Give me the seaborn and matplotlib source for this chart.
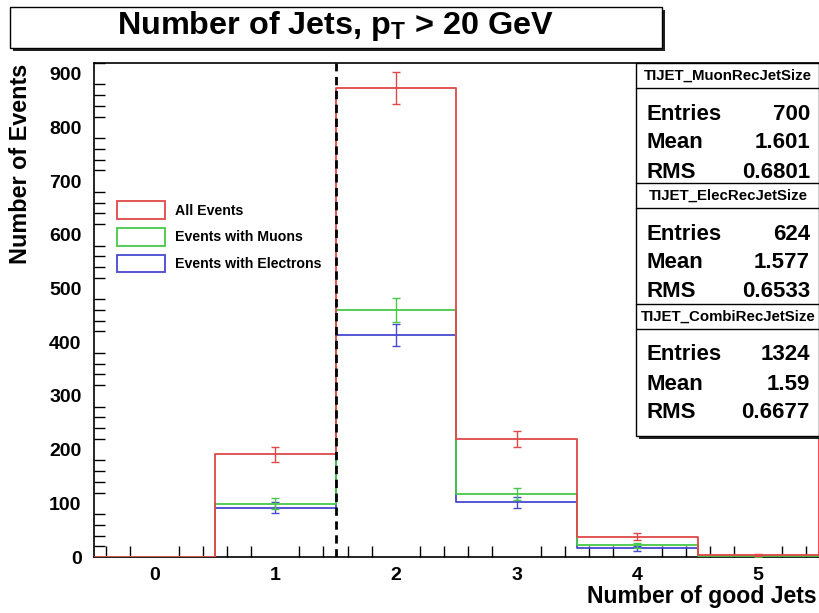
import numpy as np
import pandas as pd
import matplotlib
matplotlib.use("Agg")
import matplotlib.pyplot as plt
import seaborn as sns
from matplotlib.patches import Rectangle, Patch
from matplotlib.ticker import MultipleLocator

# ---- data ----
jets = [0, 1, 2, 3, 4, 5]
all_events = [0, 191, 873, 219, 38, 4]
muon_events = [0, 99, 460, 117, 22, 2]
elec_events = [0, 92, 413, 102, 16, 2]
series_names = ["All Events", "Events with Muons", "Events with Electrons"]
series_colors = ["#e04848", "#48c848", "#4848d0"]
stats_headers = ["TIJET_MuonRecJetSize", "TIJET_ElecRecJetSize", "TIJET_CombiRecJetSize"]
stats_entries = ["700", "624", "1324"]
stats_means = ["1.601", "1.577", "1.59"]
stats_rms = ["0.6801", "0.6533", "0.6677"]
cut_x = 1.5

sns.set_style("white")
plt.rcParams['font.family'] = ['Liberation Sans', 'DejaVu Sans']
plt.rcParams['font.weight'] = 'bold'
plt.rcParams['text.color'] = 'black'
plt.rcParams['axes.labelcolor'] = 'black'
plt.rcParams['xtick.color'] = 'black'
plt.rcParams['ytick.color'] = 'black'
plt.rcParams['mathtext.fontset'] = 'custom'
plt.rcParams['mathtext.rm'] = 'Liberation Sans:bold'
plt.rcParams['mathtext.it'] = 'Liberation Sans:bold'
plt.rcParams['mathtext.bf'] = 'Liberation Sans:bold'

W, H = 819, 613
fig = plt.figure(figsize=(W / 100, H / 100), dpi=100)

def fx(x):
    return x / W

def fy(y):
    return 1 - y / H

ax_l, ax_r, ax_t, ax_b = 94, 818.5, 63, 557
ax = fig.add_axes([fx(ax_l), fy(ax_b), fx(ax_r - ax_l), (ax_b - ax_t) / H])

df = pd.DataFrame({
    "jets": jets * 3,
    "count": elec_events + muon_events + all_events,
    "series": [series_names[2]] * 6 + [series_names[1]] * 6 + [series_names[0]] * 6,
})
color_map = dict(zip(series_names, series_colors))
for i, name in enumerate([series_names[2], series_names[1], series_names[0]]):
    sub = df[df["series"] == name]
    sns.histplot(data=sub, x="jets", weights="count", discrete=True,
                 element="step", fill=False, color=color_map[name],
                 linewidth=1.3, ax=ax, zorder=2 + i)
    yerr = np.sqrt(sub["count"].values)
    mask = sub["count"].values > 0
    ax.errorbar(sub["jets"].values[mask], sub["count"].values[mask],
                yerr=yerr[mask], fmt="none", ecolor=color_map[name],
                elinewidth=1.0, capsize=3, capthick=1.0, zorder=2 + i)

ax.axvline(cut_x, color="black", linestyle=(0, (3, 2)), linewidth=2, zorder=6)

ax.set_xlim(-0.5, 5.5)
ax.set_ylim(0, 920)
ax.set_xlabel("")
ax.set_ylabel("")
ax.set_xticks(jets)
ax.set_yticks(np.arange(0, 901, 100))
ax.xaxis.set_minor_locator(MultipleLocator(0.2))
ax.yaxis.set_minor_locator(MultipleLocator(20))
ax.tick_params(axis="both", which="major", direction="in", labelsize=14, width=1.0,
               colors="black")
ax.tick_params(axis="x", which="major", length=18, pad=7)
ax.tick_params(axis="y", which="major", length=15, pad=9)
ax.tick_params(axis="x", which="minor", direction="in", length=8, width=1.0, bottom=True)
ax.tick_params(axis="y", which="minor", direction="in", length=8, width=1.0, left=True)
for lab in ax.get_xticklabels() + ax.get_yticklabels():
    lab.set_fontweight("bold")
for side in ["left", "bottom", "top"]:
    ax.spines[side].set_color("black")
    ax.spines[side].set_linewidth(1.2)
ax.spines["right"].set_color("#ff2020")
ax.spines["right"].set_linewidth(1.2)

# legend
handles = [Patch(facecolor="white", edgecolor=c, linewidth=1.3) for c in series_colors]
fs_leg = 10.2
px_leg = fs_leg * 100 / 72
ax.legend(handles, series_names, loc="upper left",
          bbox_to_anchor=(fx(117), fy(201)), bbox_transform=fig.transFigure,
          frameon=False, prop={"weight": "bold", "size": fs_leg},
          handlelength=48 / px_leg, handleheight=22 / px_leg,
          handletextpad=10 / px_leg, labelspacing=9 / px_leg,
          borderpad=0, borderaxespad=0)

# axis labels
fig.text(fx(21), fy(64), "Number of Events", rotation=90, ha="center", va="top",
         fontsize=16.8, fontweight="bold")
fig.text(fx(817), fy(596), "Number of good Jets", ha="right", va="center",
         fontsize=16.6, fontweight="bold")

# title box with shadow
fig.add_artist(Rectangle((fx(13), fy(51)), fx(652), (51 - 10) / H, transform=fig.transFigure,
                         facecolor="#222222", edgecolor="none", zorder=9))
fig.add_artist(Rectangle((fx(10), fy(48)), fx(652), (48 - 7) / H, transform=fig.transFigure,
                         facecolor="white", edgecolor="black", linewidth=1.0, zorder=10))
fig.text(fx(335), fy(26), r"Number of Jets, p$_{\rm T}$ > 20 GeV", ha="center", va="center",
         fontsize=23.3, fontweight="bold", zorder=11)

# stats box
bx_l, bx_r, bx_t, bx_b = 636, 819, 63, 436
fig.add_artist(Rectangle((fx(bx_l + 3), fy(bx_b + 3)), fx(bx_r - bx_l), (bx_b - bx_t) / H,
                         transform=fig.transFigure, facecolor="#222222", edgecolor="none", zorder=9))
fig.add_artist(Rectangle((fx(bx_l), fy(bx_b)), fx(bx_r - bx_l), (bx_b - bx_t) / H,
                         transform=fig.transFigure, facecolor="white", edgecolor="black",
                         linewidth=1.0, zorder=10))
section_tops = [63, 183, 304]
for k in range(3):
    t = section_tops[k]
    fig.text(fx(728), fy(t + 13), stats_headers[k], ha="center", va="center",
             fontsize=10.8, fontweight="bold", zorder=11)
    line_y = fy(t + 25)
    fig.add_artist(plt.Line2D([fx(bx_l), fx(bx_r)], [line_y, line_y], transform=fig.transFigure,
                              color="black", linewidth=1.0, zorder=11))
    rows = [("Entries", stats_entries[k]), ("Mean", stats_means[k]), ("RMS", stats_rms[k])]
    for j, (lab, val) in enumerate(rows):
        yy = fy(t + 51 + j * 29)
        fig.text(fx(647), yy, lab, ha="left", va="center", fontsize=16.0,
                 fontweight="bold", zorder=11)
        fig.text(fx(810), yy, val, ha="right", va="center", fontsize=16.0,
                 fontweight="bold", zorder=11)
    if k < 2:
        ly = fy(section_tops[k + 1])
        fig.add_artist(plt.Line2D([fx(bx_l), fx(bx_r)], [ly, ly], transform=fig.transFigure,
                                  color="black", linewidth=1.0, zorder=11))

fig.savefig("out.png", dpi=100)
